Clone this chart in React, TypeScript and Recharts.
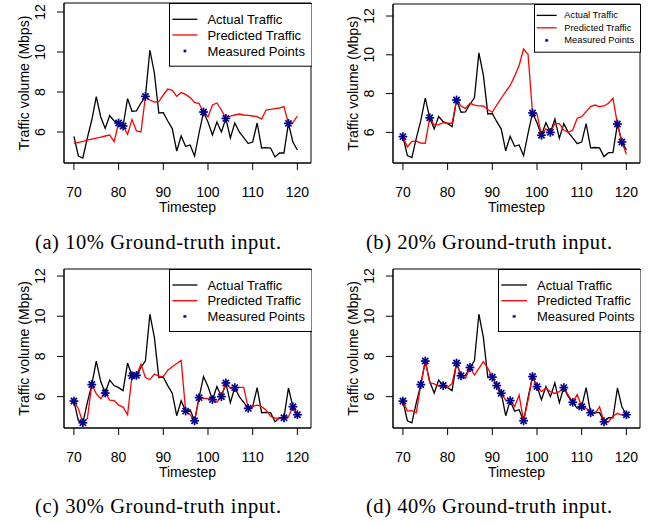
import React from "react";
import { ComposedChart, Line, Scatter, XAxis, YAxis, ReferenceArea, Legend } from "recharts";

const FONT = '"Liberation Sans", Arial, Helvetica, sans-serif';
const SERIF = '"Liberation Serif", "Times New Roman", serif';

const timesteps = [
  70, 71, 72, 73, 74, 75, 76, 77, 78, 79, 80, 81, 82, 83, 84, 85, 86, 87, 88, 89, 90, 91, 92, 93, 94, 95,
  96, 97, 98, 99, 100, 101, 102, 103, 104, 105, 106, 107, 108, 109, 110, 111, 112, 113, 114, 115, 116,
  117, 118, 119, 120,
];

const actualTraffic = [
  5.78, 4.8, 4.7, 5.7, 6.6, 7.77, 6.75, 6.18, 6.82, 6.55, 6.45, 6.3, 7.67, 7.04, 7.06, 7.45, 7.78, 10.1,
  8.95, 6.95, 6.97, 6.55, 6.17, 5.05, 5.8, 5.28, 5.35, 4.8, 5.95, 7.0, 6.5, 5.85, 6.5, 6.0, 6.68, 5.7,
  6.45, 6.0, 5.72, 5.42, 5.5, 6.45, 5.2, 5.22, 5.2, 4.75, 4.95, 4.95, 6.43, 5.5, 5.1,
];

const predicted10 = [
  5.43, 5.48, 5.53, 5.59, 5.64, 5.69, 5.74, 5.8, 5.85, 5.52, 6.45, 6.3, 5.88, 6.63, 6.05, 6.0, 7.78, 7.6,
  7.5, 7.52, 7.85, 8.15, 8.08, 7.78, 7.97, 7.88, 7.72, 7.48, 7.42, 7.0, 6.75, 7.35, 7.45, 7.1, 6.68, 6.8,
  6.85, 6.9, 6.85, 6.83, 6.8, 6.77, 6.65, 7.1, 7.13, 7.17, 7.2, 7.27, 6.43, 6.47, 6.8,
];

const predicted20 = [
  5.78, 5.25, 5.54, 5.55, 5.45, 5.44, 6.75, 6.38, 6.4, 6.5, 6.47, 6.47, 7.67, 7.36, 7.24, 7.5, 7.41, 7.37,
  7.36, 7.18, 7.04, 7.41, 7.76, 8.1, 8.42, 8.9, 9.45, 10.3, 10.02, 7.0, 6.95, 5.85, 6.18, 6.0, 6.45, 6.45,
  6.12, 6.0, 6.12, 6.73, 6.81, 7.07, 7.33, 7.41, 7.33, 7.36, 7.5, 7.76, 6.43, 5.5, 4.87,
];

const predicted30 = [
  5.78, 5.4, 4.7, 4.9, 6.6, 6.15, 5.9, 6.18, 5.83, 5.8, 5.58, 5.48, 5.1, 7.04, 7.06, 7.62, 6.95, 6.85,
  7.12, 7.02, 7.0, 7.32, 7.49, 7.65, 7.8, 5.28, 5.1, 4.8, 5.95, 5.92, 5.9, 5.85, 5.72, 6.0, 6.68, 6.42,
  6.45, 6.46, 6.46, 5.42, 5.52, 5.58, 5.5, 5.33, 5.02, 4.93, 4.93, 4.95, 5.0, 5.5, 5.1,
];

const predicted40 = [
  5.78, 5.28, 5.3, 5.2, 6.6, 7.77, 6.69, 6.63, 6.53, 6.55, 6.46, 6.66, 7.67, 7.04, 6.91, 7.45, 7.07, 7.41,
  7.74, 7.41, 6.97, 6.55, 6.17, 5.83, 5.8, 5.5, 6.08, 4.8, 5.83, 7.0, 6.5, 6.25, 6.41, 6.25, 6.16, 6.25,
  6.45, 6.08, 5.72, 6.11, 5.5, 5.42, 5.2, 5.17, 5.5, 4.75, 4.75, 5.03, 5.17, 5.08, 5.1,
];

const measured10 = [80, 81, 86, 99, 104, 118];
const measured20 = [70, 76, 82, 99, 101, 103, 118, 119];
const measured30 = [70, 72, 74, 77, 83, 84, 95, 97, 98, 101, 103, 104, 106, 109, 117, 119, 120];
const measured40 = [70, 74, 75, 79, 82, 83, 85, 90, 91, 92, 94, 97, 99, 100, 106, 108, 110, 112, 115, 120];

const xTicks = [70, 80, 90, 100, 110, 120];
const yTicks = [6, 8, 10, 12];
const xDomain = [67.78, 123.05];
const legendLabels = ["Actual Traffic", "Predicted Traffic", "Measured Points"];
const captions = [
  "(a) 10% Ground-truth input.",
  "(b) 20% Ground-truth input.",
  "(c) 30% Ground-truth input.",
  "(d) 40% Ground-truth input.",
];

const CHART_W = 327;
const AXIS_W = 64;
const RIGHT_M = 16;
const XAXIS_H = 50;
const BOTTOM_M = 8;

type LegendGeom = {
  w: number;
  h: number;
  rows: number[];
  lineX: [number, number];
  textX: number;
  fontSize: number;
};

type PanelDef = {
  left: number;
  top: number;
  marginTop: number;
  plotH: number;
  yDomain: number[];
  predicted: number[];
  measured: number[];
  caption: string;
  capX: number;
  capY: number;
  legend: LegendGeom;
};

const bigLegend: LegendGeom = {
  w: 142.5,
  h: 62,
  rows: [16, 31.7, 47.4],
  lineX: [3.4, 28.4],
  textX: 38.4,
  fontSize: 13,
};

const panels: PanelDef[] = [
  {
    left: 0, top: 0, marginTop: 3, plotH: 160, yDomain: [4.45, 12.45],
    predicted: predicted10, measured: measured10, caption: captions[0], capX: 158, capY: 249,
    legend: { ...bigLegend, h: 62.7, rows: [16.3, 32, 48] },
  },
  {
    left: 329, top: 0, marginTop: 4, plotH: 159, yDomain: [4.42, 12.62],
    predicted: predicted20, measured: measured20, caption: captions[1], capX: 489, capY: 249,
    legend: { w: 106, h: 47.7, rows: [11.4, 23.8, 36.4], lineX: [2.7, 22.7], textX: 30.3, fontSize: 9.3 },
  },
  {
    left: 0, top: 265, marginTop: 4, plotH: 159, yDomain: [4.44, 12.35],
    predicted: predicted30, measured: measured30, caption: captions[2], capX: 158, capY: 513,
    legend: bigLegend,
  },
  {
    left: 329, top: 265, marginTop: 4, plotH: 159, yDomain: [4.44, 12.35],
    predicted: predicted40, measured: measured40, caption: captions[3], capX: 489, capY: 513,
    legend: { ...bigLegend, lineX: [3.3, 29], textX: 39 },
  },
];

const NAVY = "#00008B";

function Asterisk({ cx, cy, r, w }: { cx: number; cy: number; r: number; w: number }) {
  const d = r * 0.7071;
  return (
    <g stroke={NAVY} strokeWidth={w}>
      <line x1={cx - r} y1={cy} x2={cx + r} y2={cy} />
      <line x1={cx} y1={cy - r} x2={cx} y2={cy + r} />
      <line x1={cx - d} y1={cy - d} x2={cx + d} y2={cy + d} />
      <line x1={cx - d} y1={cy + d} x2={cx + d} y2={cy - d} />
    </g>
  );
}

const starShape = (props: any) => <Asterisk cx={props.cx} cy={props.cy} r={4.4} w={1.7} />;

const YTick = (props: any) => {
  const { x, y, payload } = props;
  return (
    <text
      x={x}
      y={y}
      transform={`rotate(-90, ${x}, ${y})`}
      textAnchor="middle"
      fontSize={14}
      fontFamily={FONT}
      fill="#000"
    >
      {payload.value}
    </text>
  );
};

const YTitle = (props: any) => (
  <text
    x={28.5}
    y={props.mid}
    transform={`rotate(-90, 28.5, ${props.mid})`}
    textAnchor="middle"
    fontSize={14}
    fontFamily={FONT}
    fill="#000"
  >
    Traffic volume (Mbps)
  </text>
);

const XTitle = (props: any) => (
  <text x={props.mid} y={props.base} textAnchor="middle" fontSize={14} fontFamily={FONT} fill="#000">
    Timestep
  </text>
);

function LegendBox({ g }: { g: LegendGeom }) {
  return (
    <svg width={g.w + 1} height={g.h + 1} style={{ display: "block" }}>
      <rect x={0.5} y={0.5} width={g.w} height={g.h} fill="#fff" stroke="#000" strokeWidth={1} />
      <line x1={g.lineX[0]} x2={g.lineX[1]} y1={g.rows[0]} y2={g.rows[0]} stroke="#000" strokeWidth={1.3} />
      <line x1={g.lineX[0]} x2={g.lineX[1]} y1={g.rows[1]} y2={g.rows[1]} stroke="#ff0000" strokeWidth={1.3} />
      <Asterisk cx={(g.lineX[0] + g.lineX[1]) / 2} cy={g.rows[2]} r={1.6} w={1} />
      {legendLabels.map((label, i) => (
        <text
          key={label}
          x={g.textX}
          y={g.rows[i]}
          dominantBaseline="central"
          fontSize={g.fontSize}
          fontFamily={FONT}
          fill="#000"
        >
          {label}
        </text>
      ))}
    </svg>
  );
}

function Panel({ p }: { p: PanelDef }) {
  const data = timesteps.map((t, i) => ({ t, actual: actualTraffic[i], predicted: p.predicted[i] }));
  const points = p.measured.map((t) => ({ t, v: actualTraffic[timesteps.indexOf(t)] }));
  const height = p.marginTop + p.plotH + XAXIS_H + BOTTOM_M;
  const plotRight = CHART_W - RIGHT_M;
  return (
    <div style={{ position: "absolute", left: p.left, top: p.top }}>
      <ComposedChart
        width={CHART_W}
        height={height}
        data={data}
        margin={{ top: p.marginTop, right: RIGHT_M, left: 0, bottom: BOTTOM_M }}
      >
        <ReferenceArea
          x1={xDomain[0]}
          x2={xDomain[1]}
          y1={p.yDomain[0]}
          y2={p.yDomain[1]}
          fill="none"
          stroke="#000"
          strokeWidth={1}
          ifOverflow="visible"
        />
        <XAxis
          dataKey="t"
          type="number"
          domain={xDomain}
          allowDataOverflow
          ticks={xTicks}
          interval={0}
          height={XAXIS_H}
          tickSize={7}
          tickMargin={17}
          axisLine={{ stroke: "#000" }}
          tickLine={{ stroke: "#000" }}
          tick={{ fill: "#000", fontSize: 14, fontFamily: FONT }}
          label={<XTitle mid={AXIS_W + (plotRight - AXIS_W) / 2} base={p.marginTop + p.plotH + 49} />}
        />
        <YAxis
          type="number"
          domain={p.yDomain}
          allowDataOverflow
          ticks={yTicks}
          interval={0}
          width={AXIS_W}
          tickSize={7}
          tickMargin={12}
          axisLine={{ stroke: "#000" }}
          tickLine={{ stroke: "#000" }}
          tick={<YTick />}
          label={<YTitle mid={p.marginTop + p.plotH / 2} />}
        />
        <Legend
          layout="vertical"
          align="center"
          verticalAlign="middle"
          width={p.legend.w + 1}
          height={p.legend.h + 1}
          wrapperStyle={{ left: plotRight - p.legend.w, top: p.marginTop, width: p.legend.w + 1 }}
          content={() => <LegendBox g={p.legend} />}
        />
        <Line
          dataKey="actual"
          type="linear"
          stroke="#000"
          strokeWidth={1.3}
          dot={false}
          isAnimationActive={false}
        />
        <Line
          dataKey="predicted"
          type="linear"
          stroke="#ff0000"
          strokeWidth={1.3}
          dot={false}
          isAnimationActive={false}
        />
        <Scatter data={points} dataKey="v" shape={starShape} isAnimationActive={false} />
      </ComposedChart>
    </div>
  );
}

export default function App() {
  return (
    <div
      style={{
        position: "absolute",
        left: 0,
        top: 0,
        width: 655,
        height: 523,
        background: "#fff",
        overflow: "hidden",
      }}
    >
      {panels.map((p) => (
        <Panel key={p.caption} p={p} />
      ))}
      <svg width={655} height={523} style={{ position: "absolute", left: 0, top: 0, pointerEvents: "none" }}>
        {panels.map((p) => (
          <text
            key={p.caption}
            x={p.capX}
            y={p.capY}
            textAnchor="middle"
            fontSize={20.5}
            fontFamily={SERIF}
            fill="#000"
            textLength={246}
            lengthAdjust="spacing"
          >
            {p.caption}
          </text>
        ))}
      </svg>
    </div>
  );
}
